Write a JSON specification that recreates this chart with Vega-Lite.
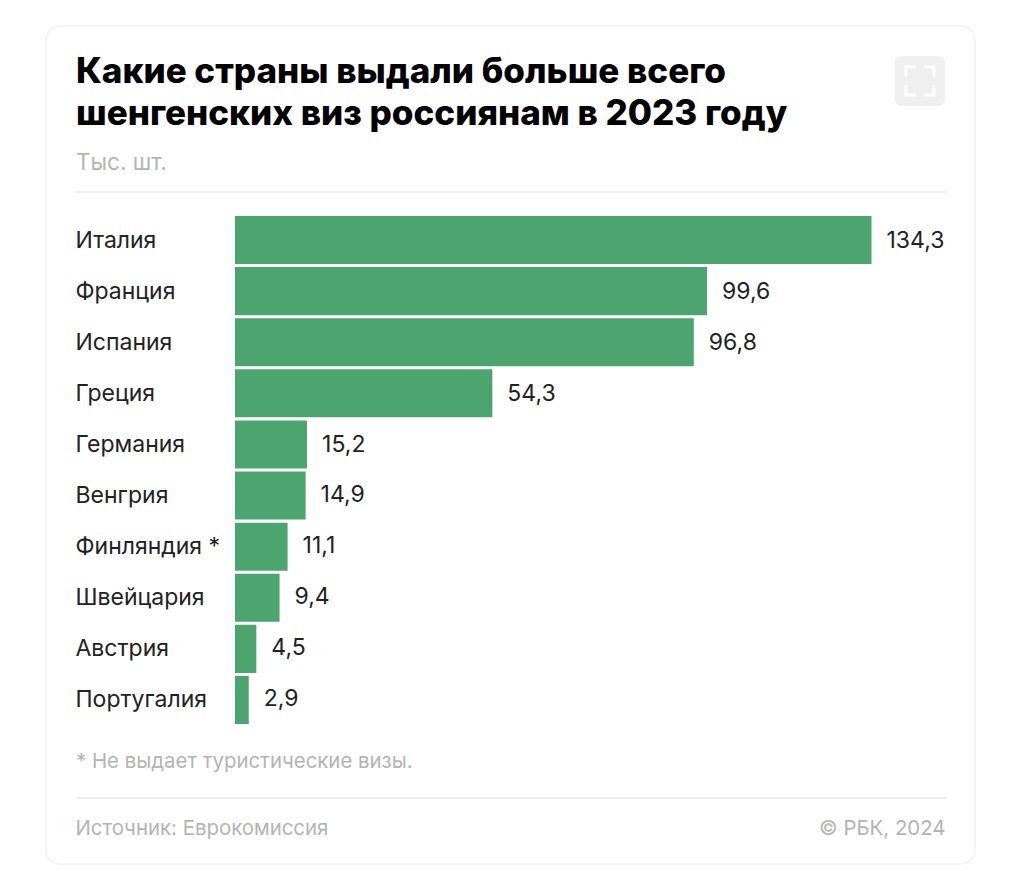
{
"$schema":"https://vega.github.io/schema/vega-lite/v6.json",
"autosize":{"type":"none"},
"padding":{"left":46,"top":26,"right":49,"bottom":7},
"width":929,"height":838,
"background":"#ffffff",
"view":{"stroke":"#f3f3f3","strokeWidth":1.5,"cornerRadius":14,"fill":"#ffffff"},
"title":{"text":["Какие страны выдали больше всего","шенгенских виз россиянам в 2023 году"],"subtitle":"Тыс. шт.","anchor":"start","frame":"group","align":"left","baseline":"top","dx":30,"offset":-148,"font":"Inter","fontWeight":800,"fontSize":35,"lineHeight":42,"color":"#000000","subtitleFont":"Inter","subtitleFontSize":22.5,"subtitleColor":"#b4b4b4","subtitlePadding":20},
"data":{"values":[
{"country":"Италия","value":134.3,"label":"134,3"},
{"country":"Франция","value":99.6,"label":"99,6"},
{"country":"Испания","value":96.8,"label":"96,8"},
{"country":"Греция","value":54.3,"label":"54,3"},
{"country":"Германия","value":15.2,"label":"15,2"},
{"country":"Венгрия","value":14.9,"label":"14,9"},
{"country":"Финляндия *","value":11.1,"label":"11,1"},
{"country":"Швейцария","value":9.4,"label":"9,4"},
{"country":"Австрия","value":4.5,"label":"4,5"},
{"country":"Португалия","value":2.9,"label":"2,9"}
]},
"resolve":{"scale":{"y":"independent"},"axis":{"x":"independent"}},
"layer":[
{"mark":{"type":"bar","color":"#4ca46f"},
"encoding":{
"y":{"field":"country","type":"nominal","sort":null,
"scale":{"range":[190,698],"paddingInner":0.06,"paddingOuter":0},
"axis":{"title":"* Не выдает туристические визы.","titleAngle":0,"titleX":29.5,"titleY":735,"titleAlign":"left","titleBaseline":"middle","titleFont":"Inter","titleFontSize":20.4,"titleFontWeight":400,"titleColor":"#b4b4b4","labelFont":"Inter","labelFontSize":23,"labelColor":"#222222","labelAlign":"left","labelPadding":-29,"labelOffset":0.5,"labelLimit":0,"ticks":false,"domain":false,"grid":false}},
"x":{"field":"value","type":"quantitative",
"scale":{"domain":[0,134.3],"range":[189,825.5],"nice":false},
"axis":{"orient":"bottom","title":"Источник: Еврокомиссия","titleX":29,"titleY":-36,"titleAlign":"left","titleBaseline":"middle","titleFont":"Inter","titleFontSize":20.4,"titleFontWeight":400,"titleColor":"#b4b4b4","labels":false,"ticks":false,"domain":false,"grid":false}}
}},
{"mark":{"type":"text","align":"left","baseline":"middle","dx":15,"font":"Inter","fontSize":23,"color":"#222222"},
"encoding":{
"y":{"field":"country","type":"nominal","sort":null,"scale":{"range":[190,698],"paddingInner":0.06,"paddingOuter":0},"axis":null},
"x":{"field":"value","type":"quantitative","axis":{"orient":"top","title":"© РБК, 2024","titleX":899,"titleY":802,"titleAlign":"right","titleBaseline":"middle","titleFont":"Inter","titleFontSize":20.4,"titleFontWeight":400,"titleColor":"#b4b4b4","labels":false,"ticks":false,"domain":false,"grid":false}},
"text":{"field":"label"}
}},
{"data":{"values":[{"line":"header"},{"line":"footer"}]},
"mark":{"type":"rule","color":"#e9e9e9","strokeWidth":1.5},
"encoding":{
"y":{"field":"line","type":"nominal","sort":null,"scale":{"type":"point","domain":["header","footer"],"range":[166,772],"padding":0},"axis":null},
"x":{"datum":-33.5,"type":"quantitative","axis":null},
"x2":{"datum":150}
}},
{"data":{"values":[{"item":"icon"}]},
"mark":{"type":"rect","color":"#efefef","cornerRadius":7},
"encoding":{
"y":{"field":"item","type":"nominal","scale":{"type":"band","domain":["icon"],"range":[30,80],"padding":0},"axis":null},
"x":{"datum":139.2,"type":"quantitative","axis":null},
"x2":{"datum":149.8}
}},
{"data":{"values":[{"item":"icon"}]},
"mark":{"type":"point","filled":false,"stroke":"#ffffff","strokeWidth":3,"opacity":1,"size":784,"shape":"M-1,-0.3V-1H-0.3M0.3,-1H1V-0.3M1,0.3V1H0.3M-0.3,1H-1V0.3"},
"encoding":{
"y":{"field":"item","type":"nominal","scale":{"type":"band","domain":["icon"],"range":[30,80],"padding":0},"axis":null},
"x":{"datum":144.5,"type":"quantitative","axis":null}
}}
]
}
